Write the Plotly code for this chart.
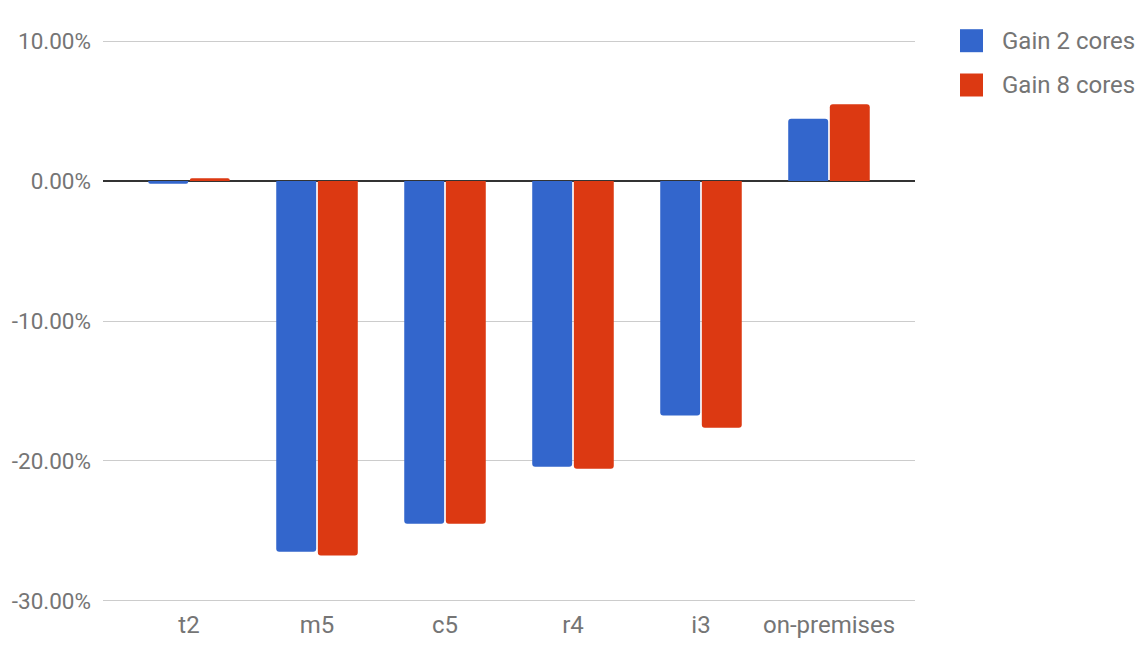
import plotly.graph_objects as go

categories = ["t2", "m5", "c5", "r4", "i3", "on-premises"]
gain_2_cores = [-0.002, -0.2648, -0.2448, -0.2041, -0.1676, 0.0446]
gain_8_cores = [0.002, -0.2676, -0.2448, -0.2055, -0.1762, 0.0548]
series_names = ["Gain 2 cores", "Gain 8 cores"]
colors = ["#3366cc", "#dc3912"]
y_ticks = [-0.3, -0.2, -0.1, 0.0, 0.1]
y_tick_labels = [f"{v * 100:.2f}%" for v in y_ticks]  # ASCII hyphen minus as in reference

TEXT = "#757575"
FONT = "Roboto"
FS = 24

# page body has an 8px margin; figure coordinates = page coordinates - 8
W, H = 1140, 648
L, R, T, B = 95, 233, 31, 53
PW, PH = W - L - R, H - T - B

fig = go.Figure()
for name, vals, col in zip(series_names, [gain_2_cores, gain_8_cores], colors):
    fig.add_trace(go.Bar(x=categories, y=vals, name=name, marker_color=col,
                         marker_line_width=0, showlegend=False))

fig.update_layout(
    width=W, height=H,
    margin=dict(l=L, r=R, t=T, b=B, pad=0, autoexpand=False),
    paper_bgcolor="white", plot_bgcolor="white",
    barmode="group", bargap=0.35, bargroupgap=0.04,
    barcornerradius=3,
    font=dict(family=FONT, size=FS, color=TEXT),
    xaxis=dict(range=[-0.672, 5.672], showgrid=False, showline=False,
               zeroline=False, ticks="", ticklabelstandoff=5, automargin=False,
               tickfont=dict(size=FS, color=TEXT)),
    yaxis=dict(range=[-0.3015, 0.1015], tickvals=y_ticks, ticktext=y_tick_labels,
               showgrid=True, gridcolor="#cccccc", gridwidth=1,
               zeroline=True, zerolinecolor="#333333", zerolinewidth=2,
               showline=False, ticks="", ticklabelstandoff=11, automargin=False,
               tickfont=dict(size=22.5, color=TEXT)),
)

# Custom legend (large square keys), positions in page px
legend_y = [40.7, 85]
for name, col, yc in zip(series_names, colors, legend_y):
    yc_f = yc - 8
    fig.add_shape(type="rect", xref="paper", yref="paper",
                  x0=(960 - 8 - L) / PW, x1=(983 - 8 - L) / PW,
                  y0=1 - (yc_f + 11.5 - T) / PH, y1=1 - (yc_f - 11.5 - T) / PH,
                  fillcolor=col, line_width=0)
    fig.add_annotation(xref="paper", yref="paper",
                       x=(1000 - 8 - L) / PW,
                       y=1 - (yc_f - T) / PH,
                       text=name, showarrow=False, xanchor="left", yanchor="middle",
                       font=dict(family=FONT, size=FS, color=TEXT))

fig.write_html("out.html")
